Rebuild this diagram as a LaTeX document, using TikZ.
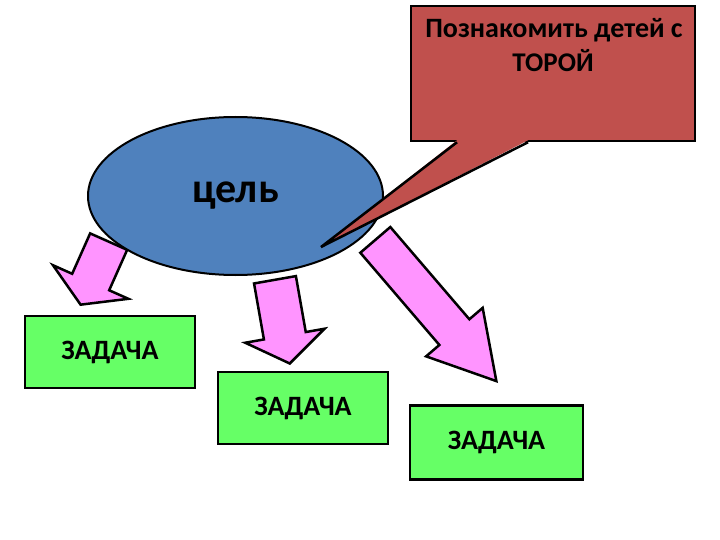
\documentclass[tikz,border=0pt]{standalone}
\usepackage{fontspec}
\setmainfont{Carlito}
\usepackage{tikz}
\usetikzlibrary{shapes.geometric, shapes.arrows, positioning}
\definecolor{goalblue}{HTML}{4F81BD}
\definecolor{aimred}{HTML}{C0504D}
\definecolor{taskgreen}{HTML}{66FF66}
\definecolor{arrowpink}{HTML}{FF94FF}

\begin{document}
\begin{tikzpicture}[x=1pt, y=-1pt,
	taskbox/.style={draw, line width=2.5pt, fill=taskgreen, minimum width=170pt, minimum height=72pt, font=\bfseries\fontsize{28}{32}\selectfont},
	bigarrow/.style={single arrow, draw, line width=2.5pt, fill=arrowpink, inner xsep=0pt, single arrow head indent=0pt, anchor=tip}]
			\useasboundingbox (0,0) rectangle (720,540);
			
			% Arrows to the tasks
			\node[bigarrow, minimum height=69pt, inner ysep=19pt, single arrow head extend=21pt, single arrow tip angle=118, rotate=246] (arrow1) at (80,306) {};
			\node[bigarrow, minimum height=85pt, inner ysep=20pt, single arrow head extend=19pt, single arrow tip angle=110, rotate=280] (arrow2) at (290,365) {};
			\node[bigarrow, minimum height=186pt, inner ysep=18.5pt, single arrow head extend=17.5pt, single arrow tip angle=60, rotate=310.6] (arrow3) at (498,383) {};
			
			% Goal
			\node[draw, ellipse, line width=2pt, fill=goalblue, minimum width=295pt, minimum height=158pt, font=\bfseries\fontsize{42}{48}\selectfont] (goal) at (235.5,196) {цель};
			
			% Callout
			\node[draw, line width=2.5pt, fill=aimred, minimum width=284pt, minimum height=135pt] (aim) at (553,73.5) {};
			\coordinate (aimtip) at (321,247);
			\fill[aimred] ([xshift=-96pt, yshift=2pt]aim.south) -- (aimtip) -- ([xshift=-25pt, yshift=2pt]aim.south) -- cycle;
			\draw[line width=2.5pt, line join=miter] ([xshift=-96pt]aim.south) -- (aimtip) -- ([xshift=-25pt]aim.south);
			\node[font=\bfseries\fontsize{28}{32}\selectfont, anchor=base] (aimline1) at (554,38) {Познакомить детей с};
			\node[font=\bfseries\fontsize{27}{32}\selectfont, anchor=base] (aimline2) at (553,72) {ТОРОЙ};
			
			% Tasks
			\node[taskbox] (task1) at (110,352) {ЗАДАЧА};
			\node[taskbox] (task2) at (303,408) {ЗАДАЧА};
			\node[taskbox, minimum width=173pt, minimum height=74pt] (task3) at (496.5,442.5) {ЗАДАЧА};
		\end{tikzpicture}
\end{document}
